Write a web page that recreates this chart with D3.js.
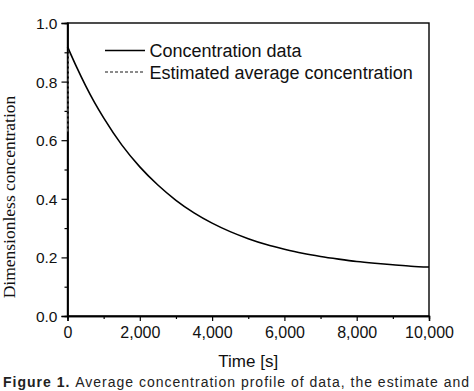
<!DOCTYPE html>
<html><head><meta charset="utf-8">
<script src="https://cdn.jsdelivr.net/npm/d3@7"></script>
<style>body{margin:0;background:#fff;overflow:hidden}svg{display:block}</style>
</head><body>
<script>
const timeS = [0,250,500,750,1000,1500,2000,2500,3000,3500,4000,4500,5000,5500,6000,6500,7000,7500,8000,8500,9000,9500,10000];
const concentration = [0.919,0.850,0.786,0.728,0.676,0.584,0.509,0.447,0.395,0.352,0.317,0.288,0.264,0.244,0.228,0.214,0.203,0.194,0.186,0.180,0.175,0.170,0.167];
const estTime = [8,14,20,26,32];
const estimated = [0.63,0.70,0.78,0.86,0.915];
const xTicks = [0,2000,4000,6000,8000,10000];
const xMinor = [1000,3000,5000,7000,9000];
const yTicks = [0,0.2,0.4,0.6,0.8,1.0];
const yMinor = [0.1,0.3,0.5,0.7,0.9];
const legendLabels = ["Concentration data","Estimated average concentration"];

const W=474,H=391;
const svg=d3.select("body").append("svg").attr("width",W).attr("height",H);
const x=d3.scaleLinear().domain([0,10000]).range([67.5,429]);
const y=d3.scaleLinear().domain([0,1]).range([316,23]);
const fmtX=d3.format(",");

// frame
svg.append("rect").attr("x",x(0)).attr("y",y(1)).attr("width",x(10000)-x(0)).attr("height",y(0)-y(1))
  .attr("fill","none").attr("stroke","#000").attr("stroke-width",1.4);

// bottom axis
const gx=svg.append("g").attr("transform",`translate(0,${y(0)})`)
  .call(d3.axisBottom(x).tickValues(xTicks).tickFormat(fmtX).tickSize(5).tickPadding(6));
gx.append("g").call(d3.axisBottom(x).tickValues(xMinor).tickFormat("").tickSize(3));
// left axis
const gy=svg.append("g").attr("transform",`translate(${x(0)},0)`)
  .call(d3.axisLeft(y).tickValues(yTicks).tickFormat(d3.format(".1f")).tickSize(6).tickPadding(4));
gy.append("g").call(d3.axisLeft(y).tickValues(yMinor).tickFormat("").tickSize(3));
svg.selectAll(".domain").attr("stroke","#000").attr("stroke-width",1.4);
svg.selectAll(".tick line").attr("stroke","#000").attr("stroke-width",1.2);
svg.selectAll(".tick text").attr("font-family","Liberation Sans, Arial, sans-serif").attr("fill","#111");
gx.selectAll(".tick text").attr("font-size",16);
gy.selectAll(".tick text").attr("font-size",15.5).attr("dy","0.35em");

// curves
const line=d3.line().x(d=>x(d[0])).y(d=>y(d[1]));
svg.append("path").datum(estTime.map((t,i)=>[t,estimated[i]])).attr("d",line)
  .attr("fill","none").attr("stroke","#666").attr("stroke-width",1.3).attr("stroke-dasharray","3,2");
svg.append("path").datum(timeS.map((t,i)=>[t,concentration[i]])).attr("d",d3.line().curve(d3.curveMonotoneX).x(d=>x(d[0])).y(d=>y(d[1])))
  .attr("fill","none").attr("stroke","#000").attr("stroke-width",1.6);

// legend
const lg=svg.append("g");
lg.append("line").attr("x1",105).attr("x2",145).attr("y1",50.5).attr("y2",50.5).attr("stroke","#000").attr("stroke-width",1.6);
lg.append("line").attr("x1",105).attr("x2",145).attr("y1",72).attr("y2",72).attr("stroke","#666").attr("stroke-width",1.3).attr("stroke-dasharray","3,2");
lg.selectAll("text").data(legendLabels).join("text")
  .attr("x",149.5).attr("y",(d,i)=>57+i*21.5)
  .attr("font-family","Liberation Sans, Arial, sans-serif").attr("font-size",18).attr("fill","#111").text(d=>d);

// axis titles
svg.append("text").attr("x",(x(0)+x(10000))/2).attr("y",366.5).attr("text-anchor","middle")
  .attr("font-family","Liberation Sans, Arial, sans-serif").attr("font-size",17).attr("fill","#111").text("Time [s]");
svg.append("text").attr("transform","translate(15,197) rotate(-90)").attr("text-anchor","middle")
  .attr("font-family","Liberation Serif, Times New Roman, serif").attr("font-size",17.5).attr("fill","#111").text("Dimensionless concentration");

// caption at the bottom edge
const cap=svg.append("text").attr("x",3).attr("y",387).attr("font-family","Liberation Sans, Arial, sans-serif")
  .attr("font-size",14).attr("fill","#222").attr("textLength",466).attr("lengthAdjust","spacing");
cap.append("tspan").attr("font-weight","bold").text("Figure 1. ");
cap.append("tspan").text("Average concentration profile of data, the estimate and");
</script>
</body></html>
